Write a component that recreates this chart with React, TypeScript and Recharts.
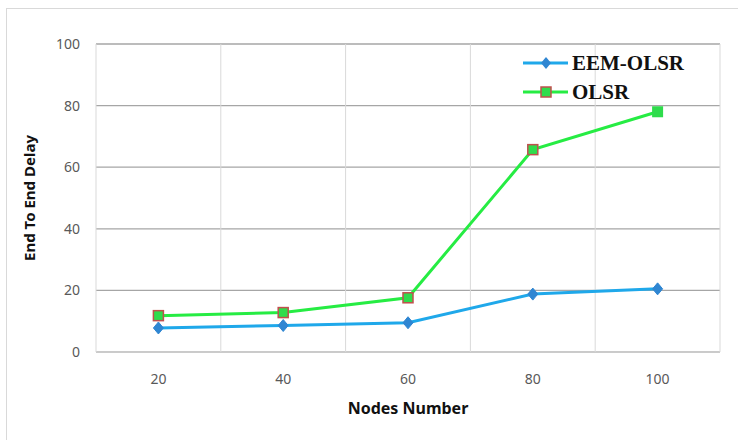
import React from 'react';
import { LineChart, Line, XAxis, YAxis, CartesianGrid, Legend } from 'recharts';

const nodes = ['20', '40', '60', '80', '100'];
const eemOlsr = [7.8, 8.6, 9.5, 18.8, 20.5];
const olsr = [11.8, 12.8, 17.6, 65.7, 78.0];
const yTicks = [0, 20, 40, 60, 80, 100];

const data = nodes.map((n, i) => ({ n, eem: eemOlsr[i], olsr: olsr[i] }));

const EEM_LINE = '#1fa8ea';
const EEM_MARK = '#2f86d2';
const OLSR_LINE = '#26ec43';
const OLSR_FILL = '#2fdc4c';
const OLSR_EDGE = '#c0504d';

const Diamond = (props: any) => {
  const { cx, cy } = props;
  if (cx == null || cy == null) return null;
  const r = 6;
  return <path key={`d-${cx}`} d={`M${cx},${cy - r}L${cx + r - 1},${cy}L${cx},${cy + r}L${cx - r + 1},${cy}Z`} fill={EEM_MARK} stroke={EEM_MARK} strokeWidth={1} />;
};

const Square = (props: any) => {
  const { cx, cy, index } = props;
  if (cx == null || cy == null) return null;
  const last = index === nodes.length - 1;
  const s = last ? 11 : 10;
  return <rect key={`s-${cx}`} x={cx - s / 2} y={cy - s / 2} width={s} height={s} fill={OLSR_FILL} stroke={last ? 'none' : OLSR_EDGE} strokeWidth={1.5} />;
};

const LegendContent = () => {
  const items = [
    { label: 'EEM-OLSR', line: EEM_LINE, kind: 'd' },
    { label: 'OLSR', line: OLSR_LINE, kind: 's' },
  ];
  return (
    <svg width={180} height={64} style={{ overflow: 'visible' }}>
      {items.map((it, i) => {
        const y = 12 + i * 29;
        return (
          <g key={it.label}>
            <line x1={3} x2={48} y1={y} y2={y} stroke={it.line} strokeWidth={3} />
            {it.kind === 'd' ? (
              <path d={`M26,${y - 6}L31,${y}L26,${y + 6}L21,${y}Z`} fill={EEM_MARK} />
            ) : (
              <rect x={21} y={y - 5} width={10} height={10} fill={OLSR_FILL} stroke={OLSR_EDGE} strokeWidth={1.5} />
            )}
            <text x={52} y={y} dominantBaseline="central" fontFamily="'Liberation Serif', 'DejaVu Serif', serif" fontWeight="bold" fontSize={21} fill="#111">
              {it.label}
            </text>
          </g>
        );
      })}
    </svg>
  );
};

export default function App() {
  const tickStyle = { fontFamily: "'Noto Sans', 'Liberation Sans', sans-serif", fontSize: 14, fill: '#595959' };
  return (
    <div style={{ position: 'absolute', left: 0, top: 0, width: 738, height: 440, background: '#fff', overflow: 'hidden' }}>
      <div style={{ position: 'absolute', left: 6, top: 8, width: 740, height: 440, border: '1px solid #d9d9d9', boxSizing: 'border-box' }} />
      <LineChart width={738} height={440} data={data} margin={{ top: 44, right: 18, bottom: 0, left: 0 }}>
        <CartesianGrid vertical={false} stroke="#a6a6a6" strokeWidth={1.3} />
        <CartesianGrid
          horizontal={false}
          stroke="#d9d9d9"
          verticalCoordinatesGenerator={({ offset }: any) =>
            [0, 1, 2, 3, 4, 5].map((i) => offset.left + (i * offset.width) / 5)
          }
        />
        <XAxis
          dataKey="n"
          scale="band"
          height={88}
          tickLine={false}
          tickSize={0}
          tickMargin={22}
          axisLine={{ stroke: '#d9d9d9' }}
          tick={tickStyle}
          label={{ value: 'Nodes Number', position: 'center', dy: 12, style: { fontFamily: "'Noto Sans', 'Liberation Sans', sans-serif", fontSize: 16, fontWeight: 'bold', fill: '#111' } }}
        />
        <YAxis
          domain={[0, 100]}
          ticks={yTicks}
          width={96}
          tickLine={false}
          tickSize={0}
          axisLine={false}
          tickMargin={16}
          tick={tickStyle}
          label={{ value: 'End To End Delay', angle: -90, position: 'center', dx: -18, style: { fontFamily: "'Noto Sans', 'Liberation Sans', sans-serif", fontSize: 15, fontWeight: 'bold', fill: '#111', textAnchor: 'middle' } }}
        />
        <Legend content={<LegendContent />} layout="vertical" verticalAlign="top" align="right" wrapperStyle={{ top: 51, left: 520, width: 0, height: 0, overflow: 'visible' }} />
        <Line type="linear" dataKey="eem" name="EEM-OLSR" stroke={EEM_LINE} strokeWidth={3} dot={<Diamond />} activeDot={false} isAnimationActive={false} />
        <Line type="linear" dataKey="olsr" name="OLSR" stroke={OLSR_LINE} strokeWidth={3} dot={<Square />} activeDot={false} isAnimationActive={false} />
      </LineChart>
    </div>
  );
}
